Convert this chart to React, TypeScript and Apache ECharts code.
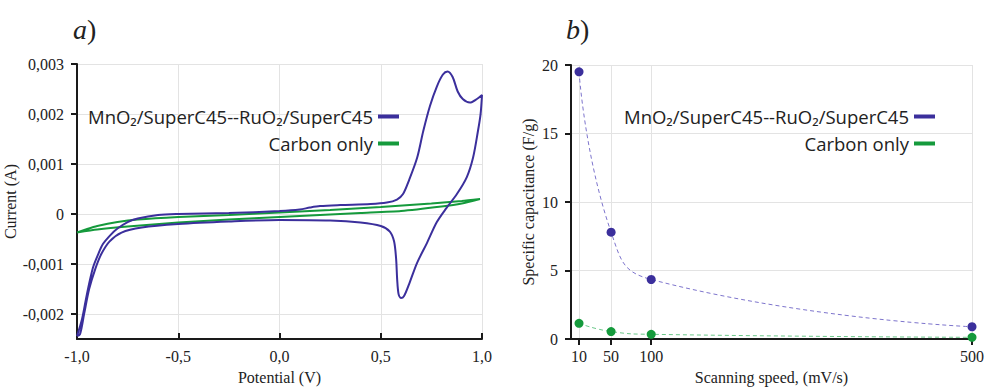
import React, { useEffect, useRef } from "react";
import * as echarts from "echarts";

// ---- Panel a) cyclic voltammetry ----
const blueLoopPotential = [
  -1.0, -0.975, -0.951, -0.921, -0.895, -0.872, -0.835, -0.8, -0.75, -0.7, -0.6, -0.5, -0.25, 0.0, 0.1, 0.15, 0.2, 0.3,
  0.45, 0.53, 0.58, 0.61, 0.64, 0.68, 0.71, 0.743, 0.777, 0.807, 0.83, 0.855, 0.88, 0.905, 0.94, 0.975, 1.0,
  0.993, 0.98, 0.956, 0.925, 0.876, 0.826, 0.777, 0.728, 0.679, 0.64, 0.615, 0.6, 0.588, 0.581, 0.576, 0.566, 0.545,
  0.5, 0.4, 0.25, 0.0, -0.25, -0.5, -0.68, -0.78, -0.84, -0.88, -0.91, -0.94, -0.965, -0.985, -1.0,
];
const blueLoopCurrent = [
  -0.00244, -0.0021, -0.0016, -0.00107, -0.0008, -0.0006, -0.00042, -0.00029, -0.00016, -0.00009, -0.00002, 0.0,
  0.00002, 0.00006, 0.00009, 0.00013, 0.00016, 0.00018, 0.0002, 0.00023, 0.00029, 0.0004, 0.00068, 0.00113, 0.00166,
  0.00216, 0.00255, 0.00279, 0.00285, 0.00274, 0.00245, 0.0023, 0.00223, 0.0023, 0.00238,
  0.002, 0.00166, 0.00113, 0.00074, 0.0004, 0.00013, -0.00016, -0.00058, -0.00098, -0.0014, -0.00164, -0.00168,
  -0.0016, -0.0013, -0.0009, -0.00055, -0.00035, -0.00024, -0.00017, -0.00013, -0.00012, -0.00015, -0.0002,
  -0.00027, -0.00037, -0.00055, -0.0008, -0.0011, -0.0015, -0.002, -0.0024, -0.00244,
];
const greenLoopPotential = [
  -1.0, -0.95, -0.9, -0.8, -0.7, -0.5, -0.25, 0.0, 0.25, 0.5, 0.75, 0.9, 0.99,
  0.9, 0.8, 0.6, 0.4, 0.2, 0.0, -0.25, -0.5, -0.75, -0.9, -1.0,
];
const greenLoopCurrent = [
  -0.00037, -0.0003, -0.00024, -0.00016, -0.00011, -0.00006, -0.00002, 0.00003, 0.00008, 0.00014, 0.00021, 0.00026,
  0.0003, 0.00021, 0.00015, 0.00006, 0.00002, -0.00002, -0.00006, -0.00011, -0.00017, -0.00025, -0.00031, -0.00037,
];
const potentialTicks = [-1, -0.5, 0, 0.5, 1];
const currentTicks = [-0.002, -0.001, 0, 0.001, 0.002, 0.003];

// ---- Panel b) specific capacitance ----
const scanSpeeds = [10, 50, 100, 500];
const capacitanceComposite = [19.5, 7.8, 4.35, 0.9];
const capacitanceCarbon = [1.15, 0.55, 0.35, 0.13];
const speedTicks = [10, 50, 100, 500];
const capacitanceTicks = [0, 5, 10, 15, 20];

const NAME_COMPOSITE = "MnO₂/SuperC45--RuO₂/SuperC45";
const NAME_CARBON = "Carbon only";
const BLUE = "#3b2f9c";
const GREEN = "#159a3c";
const SERIF = "'Liberation Serif', 'DejaVu Serif', serif";
const SANS = "'Open Sans', 'Noto Sans', sans-serif";

const zip = (a: number[], b: number[]) => a.map((v, i) => [v, b[i]]);
const comma = (v: number, d: number) => (v === 0 && d > 1 ? "0" : v.toFixed(d).replace(".", ","));

export default function App() {
  const ref = useRef<HTMLDivElement>(null);
  useEffect(() => {
    if (!ref.current) return;
    const chart = echarts.init(ref.current, null, { renderer: "svg" });
    const axisLine = { show: true, onZero: false, lineStyle: { color: "#1a1a1a", width: 2 } };
    const splitLine = { show: true, lineStyle: { color: "#e3e3e3", width: 1 } };
    const tickLabel = { color: "#222", fontFamily: SERIF, fontSize: 16 };
    const nameStyle = { color: "#222", fontFamily: SERIF, fontSize: 16 };
    const titleRich = {
      i: { fontFamily: SERIF, fontStyle: "italic", fontWeight: "normal", fontSize: 28, color: "#222" },
      p: { fontFamily: SERIF, fontWeight: "normal", fontSize: 28, color: "#222" },
    };
    const legendBase = {
      orient: "vertical",
      align: "right",
      icon: "rect",
      itemWidth: 21,
      itemHeight: 4,
      itemGap: 8,
      top: 102,
      textStyle: { fontFamily: SANS, fontSize: 18.5, color: "#222" },
      data: [
        { name: NAME_COMPOSITE, itemStyle: { color: BLUE } },
        { name: NAME_CARBON, itemStyle: { color: GREEN } },
      ],
    };
    chart.setOption({
      animation: false,
      title: [
        { text: "{i|a}{p|)}", left: 68, top: 10, textStyle: { fontWeight: "normal", rich: titleRich } },
        { text: "{i|b}{p|)}", left: 561, top: 10, textStyle: { fontWeight: "normal", rich: titleRich } },
      ],
      legend: [
        { ...legendBase, right: 583 },
        { ...legendBase, right: 47 },
      ],
      grid: [
        { left: 77, right: 505, top: 64, bottom: 47 },
        { left: 571, right: 10, top: 65, bottom: 47 },
      ],
      xAxis: [
        {
          type: "value",
          gridIndex: 0,
          min: -1,
          max: 1,
          interval: 0.1,
          name: "Potential (V)",
          nameLocation: "middle",
          nameGap: 29,
          nameTextStyle: nameStyle,
          axisLine,
          splitLine,
          axisTick: { show: true, inside: true, length: 6, customValues: potentialTicks, lineStyle: { color: "#1a1a1a", width: 2 } },
          axisLabel: { ...tickLabel, margin: 9, customValues: potentialTicks, formatter: (v: number) => comma(v, 1) },
        },
        {
          type: "value",
          gridIndex: 1,
          min: 0,
          max: 500,
          interval: 25,
          name: "Scanning speed, (mV/s)",
          nameLocation: "middle",
          nameGap: 29,
          nameTextStyle: nameStyle,
          axisLine,
          splitLine,
          axisTick: { show: true, length: 6, customValues: speedTicks, lineStyle: { color: "#1a1a1a", width: 2 } },
          axisLabel: { ...tickLabel, margin: 9, customValues: speedTicks },
        },
      ],
      yAxis: [
        {
          type: "value",
          gridIndex: 0,
          min: -0.0025,
          max: 0.003,
          interval: 0.00025,
          name: "Current (A)",
          nameLocation: "middle",
          nameGap: 54,
          nameTextStyle: nameStyle,
          axisLine,
          splitLine,
          axisTick: { show: true, length: 6, customValues: currentTicks, lineStyle: { color: "#1a1a1a", width: 2 } },
          axisLabel: { ...tickLabel, margin: 13, customValues: currentTicks, formatter: (v: number) => comma(v, 3) },
        },
        {
          type: "value",
          gridIndex: 1,
          min: 0,
          max: 20,
          interval: 1,
          name: "Specific capacitance (F/g)",
          nameLocation: "middle",
          nameGap: 35,
          nameTextStyle: nameStyle,
          axisLine,
          splitLine,
          axisTick: { show: true, length: 6, customValues: capacitanceTicks, lineStyle: { color: "#1a1a1a", width: 2 } },
          axisLabel: { ...tickLabel, margin: 13, customValues: capacitanceTicks },
        },
      ],
      series: [
        {
          name: NAME_CARBON,
          type: "line",
          xAxisIndex: 0,
          yAxisIndex: 0,
          data: zip(greenLoopPotential, greenLoopCurrent),
          showSymbol: false,
          smooth: 0.2,
          lineStyle: { color: GREEN, width: 2 },
          itemStyle: { color: GREEN },
        },
        {
          name: NAME_COMPOSITE,
          type: "line",
          xAxisIndex: 0,
          yAxisIndex: 0,
          data: zip(blueLoopPotential, blueLoopCurrent),
          showSymbol: false,
          smooth: 0.3,
          lineStyle: { color: BLUE, width: 2 },
          itemStyle: { color: BLUE },
        },
        {
          name: NAME_COMPOSITE,
          type: "line",
          xAxisIndex: 1,
          yAxisIndex: 1,
          data: zip(scanSpeeds, capacitanceComposite),
          symbol: "circle",
          symbolSize: 9,
          smooth: true,
          lineStyle: { color: "#7d74cc", width: 1, type: [4, 3] },
          itemStyle: { color: BLUE },
        },
        {
          name: NAME_CARBON,
          type: "line",
          xAxisIndex: 1,
          yAxisIndex: 1,
          data: zip(scanSpeeds, capacitanceCarbon),
          symbol: "circle",
          symbolSize: 9,
          smooth: true,
          lineStyle: { color: "#6cc88a", width: 1, type: [4, 3] },
          itemStyle: { color: GREEN },
        },
      ],
    });
    return () => chart.dispose();
  }, []);
  return <div ref={ref} style={{ position: "absolute", left: 0, top: 0, width: 987, height: 390, background: "#fff" }} />;
}
